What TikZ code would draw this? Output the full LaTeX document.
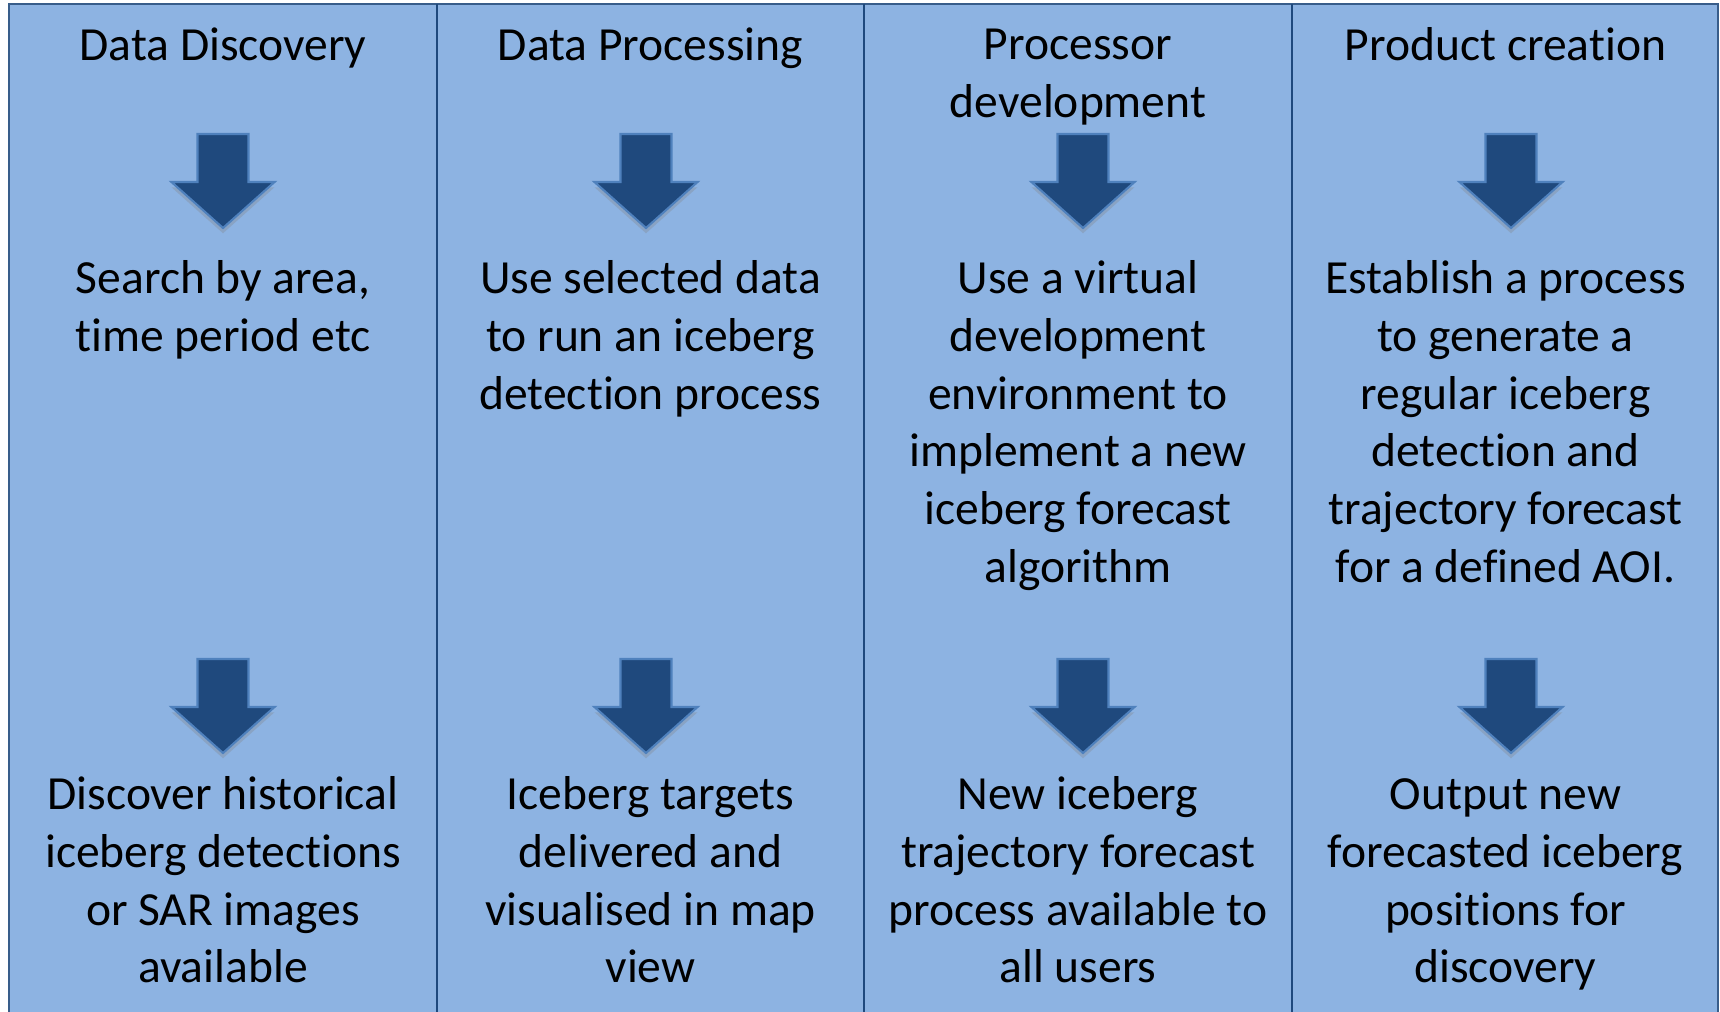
\documentclass[tikz,border=0pt]{standalone}
\usepackage{fontspec}
\setmainfont{Carlito}[Ligatures=NoCommon]
\usetikzlibrary{shadows}

\definecolor{panelblue}{HTML}{8DB3E2}
\definecolor{edgeblue}{HTML}{385D8A}
\definecolor{arrowblue}{HTML}{1F497D}
\definecolor{arrowedge}{HTML}{4F81BD}

\begin{document}
\begin{tikzpicture}[x=0.01cm,y=-0.01cm,
  % nodes sit on the baseline of their last line
  txt/.style={anchor=base,align=center,inner sep=0pt,font=\fontsize{13.52}{16.39}\selectfont},
  divider/.style={draw=arrowblue,line width=0.7pt},
  pics/downarrow/.style={code={
    \draw[fill=arrowblue,draw=arrowedge,line width=0.6pt,
      drop shadow={opacity=0.3,shadow xshift=0pt,shadow yshift=-1.5pt}]
      (-25.5,0) -- (25.5,0) -- (25.5,48) -- (51.5,48) -- (0,94)
      -- (-51.5,48) -- (-25.5,48) -- cycle;}}]

\useasboundingbox (0,0) rectangle (1720,1011);

% panel and column lines
\draw[fill=panelblue,draw=edgeblue,line width=0.5pt] (9,4) rectangle (1718,1030);
\foreach \x in {437,864,1292}
  \draw[divider] (\x,4) -- (\x,1030);

% headings
\node[txt] (head1) at (223,60) {Data Discovery};
\node[txt] (head2) at (650.5,60) {Data Processing};
\node[txt] (head3) at (1078,117.6) {Processor\\development};
\node[txt] (head4) at (1505.5,60) {Product creation};

% middle row
\node[txt] (mid1) at (223,351.6) {Search by area,\\time period etc};
\node[txt] (mid2) at (650.5,409.2) {Use selected data\\to run an iceberg\\detection process};
\node[txt] (mid3) at (1078,582) {Use a virtual\\development\\environment to\\implement a new\\iceberg forecast\\algorithm};
\node[txt] (mid4) at (1505.5,582) {Establish a process\\to generate a\\regular iceberg\\detection and\\trajectory forecast\\for a defined AOI.};

% bottom row
\node[txt] (out1) at (223,982.8) {Discover historical\\iceberg detections\\or SAR images\\available};
\node[txt] (out2) at (650.5,982.8) {Iceberg targets\\delivered and\\visualised in map\\view};
\node[txt] (out3) at (1078,982.8) {New iceberg\\trajectory forecast\\process available to\\all users};
\node[txt] (out4) at (1505.5,982.8) {Output new\\forecasted iceberg\\positions for\\discovery};

% block arrows
\coordinate (top1) at (223,134);
\coordinate (top2) at (646,134);
\coordinate (top3) at (1083,134);
\coordinate (top4) at (1511,134);
\coordinate (low1) at (223,659);
\coordinate (low2) at (646,659);
\coordinate (low3) at (1083,659);
\coordinate (low4) at (1511,659);
\foreach \n in {1,...,4} {
  \pic at (top\n) {downarrow};
  \pic at (low\n) {downarrow};
}
\end{tikzpicture}
\end{document}
